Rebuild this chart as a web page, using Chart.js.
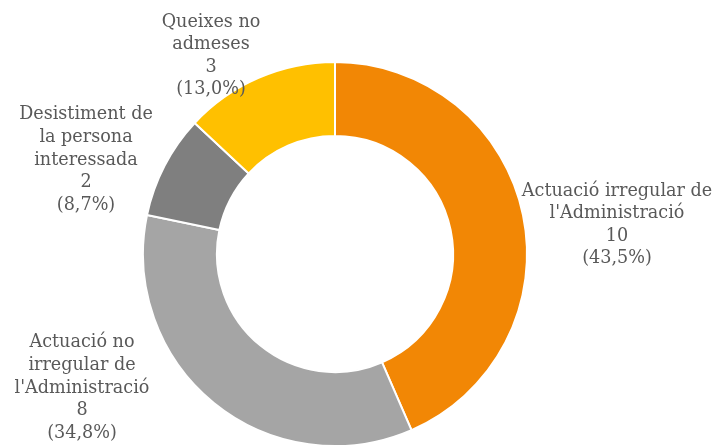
<!DOCTYPE html>
<html>
<head>
<meta charset="utf-8">
<script src="https://cdn.jsdelivr.net/npm/chart.js@4/dist/chart.umd.min.js"></script>
<style>
  html, body { margin: 0; padding: 0; background: #fff; }
  #wrap { width: 716px; height: 446px; }
</style>
</head>
<body>
<div id="wrap"><canvas id="grafic"></canvas></div>
<script>
// Dades
const categories = [
  ['Actuació irregular de', "l'Administració"],
  ['Actuació no', 'irregular de', "l'Administració"],
  ['Desistiment de', 'la persona', 'interessada'],
  ['Queixes no', 'admeses']
];
const valors = [10, 8, 2, 3];
const colors = ['#F28705', '#A5A5A5', '#7F7F7F', '#FFC000'];

// posicio de cada etiqueta respecte al centre del grafic
const posEtiquetes = [[282, -29], [-253, 134], [-249, -94], [-124, -198]];

const total = valors.reduce((a, b) => a + b, 0);
const familia = '"DejaVu Serif", "Liberation Serif", serif';

const etiquetes = {
  id: 'etiquetes',
  afterDatasetsDraw(chart) {
    const ctx = chart.ctx;
    const arcs = chart.getDatasetMeta(0).data;
    ctx.save();
    // ajusta la mida perque la linia mes llarga faci uns 190px
    ctx.font = '15px ' + familia;
    const w = ctx.measureText(categories[0][0]).width;
    const mida = Math.min(18, 15 * 190 / w);
    ctx.font = mida.toFixed(1) + 'px ' + familia;
    ctx.fillStyle = '#595959';
    ctx.textAlign = 'center';
    ctx.textBaseline = 'middle';
    const lh = 22.6;
    arcs.forEach((arc, i) => {
      const pct = (valors[i] / total * 100).toFixed(1).replace('.', ',');
      const linies = [...categories[i], String(valors[i]), '(' + pct + '%)'];
      const cx = arc.x + posEtiquetes[i][0];
      const cy = arc.y + posEtiquetes[i][1];
      const y0 = cy - (linies.length - 1) * lh / 2;
      linies.forEach((t, j) => ctx.fillText(t, cx, y0 + j * lh));
    });
    ctx.restore();
  }
};

new Chart(document.getElementById('grafic'), {
  type: 'doughnut',
  data: {
    labels: categories.map(c => c.join(' ')),
    datasets: [{
      data: valors,
      backgroundColor: colors,
      borderColor: '#ffffff',
      borderWidth: 2
    }]
  },
  options: {
    responsive: true,
    maintainAspectRatio: false,
    animation: false,
    radius: 192,
    cutout: '61.5%',
    layout: { padding: { top: 62, bottom: 0, left: 100, right: 146 } },
    plugins: {
      legend: { display: false },
      tooltip: { enabled: false }
    }
  },
  plugins: [etiquetes]
});
</script>
</body>
</html>
